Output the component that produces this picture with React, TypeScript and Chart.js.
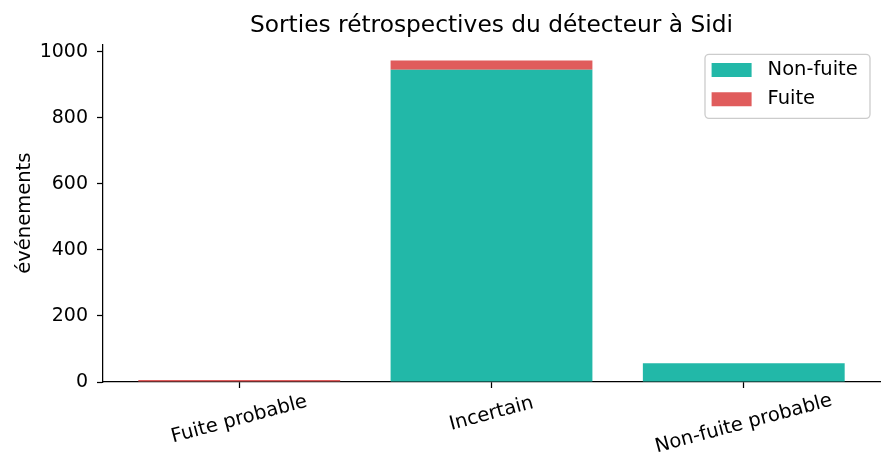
import React from 'react';
import { Chart, registerables } from 'chart.js';

Chart.register(...registerables);

const categories = ['Fuite probable', 'Incertain', 'Non-fuite probable'];
const nonFuite = [0, 946, 57];
const fuite = [6, 28, 0];
const yTicks = [0, 200, 400, 600, 800, 1000];

const seriesLabels = ['Non-fuite', 'Fuite'];
const seriesColors = ['#22b8a8', '#e05c5c'];

const FONT = "'DejaVu Sans', sans-serif";
const ROTATION = 15;

// matplotlib-like autoscale: 5% margin on both axes
const totals = categories.map((_, i) => nonFuite[i] + fuite[i]);
const yMax = Math.max(...totals) * 1.05;
const xPad = 0.05 * (categories.length - 1 + 0.8);
const xMin = -0.4 - xPad;
const xMax = categories.length - 1 + 0.4 + xPad;

// places the legend box in the top-right corner of the plot and draws its frame
const legendFrame = {
    id: 'legendFrame',
    afterLayout(chart: any) {
        const lg = chart.legend;
        if (!lg) return;
        const a = chart.chartArea;
        lg.left = a.right - 178;
        lg.top = a.top + 6.35;
        lg.width = 168;
        lg.height = 75;
        lg.right = lg.left + lg.width;
        lg.bottom = lg.top + lg.height;
    },
    beforeDraw(chart: any) {
        const ctx = chart.ctx;
        const a = chart.chartArea;
        ctx.save();
        ctx.beginPath();
        ctx.roundRect(a.right - 175, a.top + 10, 165, 64, 4);
        ctx.fillStyle = 'rgba(255,255,255,0.8)';
        ctx.fill();
        ctx.strokeStyle = '#cccccc';
        ctx.lineWidth = 1.3;
        ctx.stroke();
        ctx.restore();
    },
};

// rotated x labels centred under their tick, like matplotlib's ha="center"
const centerLabels = {
    id: 'centerLabels',
    beforeDraw(chart: any) {
        const scale = chart.scales.x;
        const items = scale.getLabelItems();
        const ctx = chart.ctx;
        const rad = (ROTATION * Math.PI) / 180;
        items.forEach((item: any, i: number) => {
            ctx.save();
            ctx.font = item.font.string;
            const w = ctx.measureText(String(item.label)).width;
            ctx.restore();
            const h = item.font.size * 1.17;
            const px = scale.getPixelForValue(scale.ticks[i].value);
            const cy = scale.top + 12 + w * Math.sin(rad) * 0.4 + (h * Math.cos(rad)) / 2;
            item.options.textAlign = 'center';
            item.options.textBaseline = 'middle';
            item.options.translation = [px, cy];
            item.textOffset = 0;
        });
    },
};

const App = () => {
    const canvasRef = React.useRef<HTMLCanvasElement>(null);

    React.useEffect(() => {
        if (!canvasRef.current) return;

        const tickFont = { family: FONT, size: 19.5 };

        const chart = new Chart(canvasRef.current, {
            type: 'bar',
            data: {
                datasets: [nonFuite, fuite].map((values, s) => ({
                    label: seriesLabels[s],
                    data: values.map((v, i) => ({ x: i, y: v })),
                    backgroundColor: seriesColors[s],
                    borderWidth: 0,
                    categoryPercentage: 1,
                    barPercentage: 0.8,
                })),
            },
            options: {
                animation: false,
                responsive: true,
                maintainAspectRatio: false,
                layout: { padding: { left: 0, top: 0, right: 13, bottom: 0 } },
                plugins: {
                    title: {
                        display: true,
                        fullSize: false,
                        text: 'Sorties rétrospectives du détecteur à Sidi',
                        color: '#000',
                        font: { family: FONT, size: 23.3, weight: 'normal' },
                        padding: { top: 12, bottom: 4.4 },
                    },
                    legend: {
                        position: 'chartArea',
                        align: 'start',
                        labels: {
                            boxWidth: 40,
                            boxHeight: 14,
                            padding: 9.6,
                            color: '#000',
                            font: { family: FONT, size: 19.5 },
                            generateLabels: (c: any) =>
                                Chart.defaults.plugins.legend.labels
                                    .generateLabels(c)
                                    .map((l: any) => ({ ...l, text: ' ' + l.text })),
                        },
                    },
                    tooltip: { enabled: false },
                },
                scales: {
                    x: {
                        type: 'linear',
                        stacked: true,
                        offset: false,
                        min: xMin,
                        max: xMax,
                        afterBuildTicks: (s: any) => {
                            s.ticks = categories.map((_, i) => ({ value: i }));
                        },
                        afterFit: (s: any) => {
                            s.height = 83;
                            s.paddingLeft = 0;
                            s.paddingRight = 0;
                        },
                        ticks: {
                            autoSkip: false,
                            minRotation: ROTATION,
                            maxRotation: ROTATION,
                            color: '#000',
                            font: tickFont,
                            callback: (v: any) => categories[v] ?? '',
                        },
                        grid: {
                            offset: false,
                            drawOnChartArea: false,
                            drawTicks: true,
                            tickLength: 6,
                            tickWidth: 1.25,
                            tickColor: '#000',
                        },
                        border: { display: true, color: '#000', width: 1.25 },
                    },
                    y: {
                        stacked: true,
                        min: 0,
                        max: yMax,
                        afterBuildTicks: (s: any) => {
                            s.ticks = yTicks.map((v) => ({ value: v }));
                        },
                        afterFit: (s: any) => {
                            s.width = 103;
                            s.paddingTop = 0;
                            s.paddingBottom = 0;
                        },
                        ticks: {
                            color: '#000',
                            font: { family: FONT, size: 19 },
                            padding: 9,
                            callback: (v: any) => String(v),
                        },
                        title: {
                            display: true,
                            text: 'événements',
                            color: '#000',
                            font: { family: FONT, size: 19.5 },
                            padding: { top: 13, bottom: 0 },
                        },
                        grid: {
                            drawOnChartArea: false,
                            drawTicks: true,
                            tickLength: 6,
                            tickWidth: 1.25,
                            tickColor: '#000',
                        },
                        border: { display: true, color: '#000', width: 1.25 },
                    },
                },
            },
            plugins: [legendFrame, centerLabels],
        } as any);

        return () => {
            chart.destroy();
        };
    }, []);

    return (
        <div style={{ position: 'fixed', left: 0, top: 0, width: 893, height: 465, background: '#fff' }}>
            <canvas ref={canvasRef}></canvas>
        </div>
    );
};

export default App;
